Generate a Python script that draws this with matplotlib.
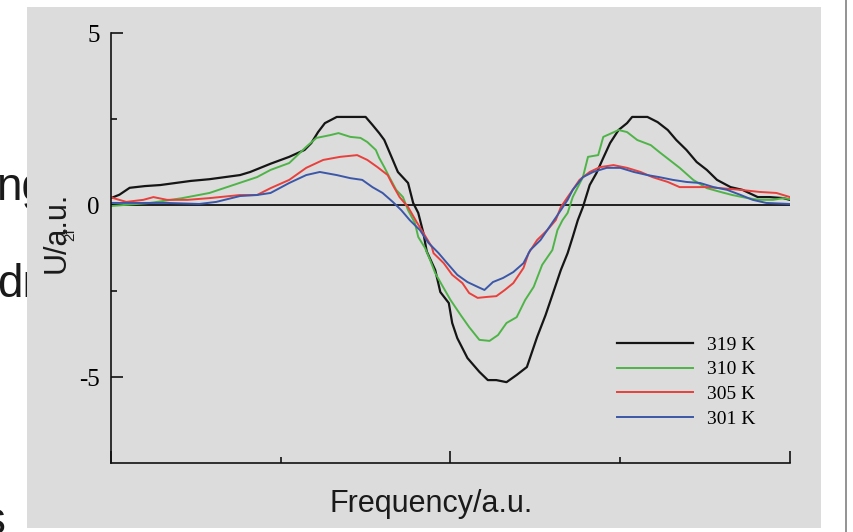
import matplotlib
matplotlib.use('Agg')
import matplotlib.pyplot as plt
from matplotlib.patches import Rectangle
from matplotlib.lines import Line2D

# data (frequency in arbitrary units 0..4)
x_319 = [0.00, 0.05, 0.11, 0.20, 0.29, 0.38, 0.47, 0.58, 0.76, 0.82, 0.94, 1.05,
         1.14, 1.18, 1.22, 1.26, 1.33, 1.41, 1.50, 1.54, 1.58, 1.61, 1.66, 1.69,
         1.75, 1.78, 1.81, 1.84, 1.86, 1.91, 1.94, 1.99, 2.01, 2.04, 2.10, 2.17,
         2.22, 2.27, 2.33, 2.39, 2.45, 2.51, 2.56, 2.60, 2.65, 2.69, 2.72, 2.75,
         2.78, 2.82, 2.86, 2.90, 2.94, 2.99, 3.04, 3.07, 3.16, 3.22, 3.28, 3.33,
         3.39, 3.45, 3.51, 3.57, 3.65, 3.72, 3.81, 3.88, 3.96, 4.00]
y_319 = [0.20, 0.30, 0.50, 0.55, 0.58, 0.64, 0.70, 0.75, 0.87, 0.96, 1.20, 1.40,
         1.60, 1.80, 2.12, 2.38, 2.56, 2.56, 2.56, 2.33, 2.09, 1.89, 1.31, 0.96,
         0.64, 0.06, -0.23, -0.81, -1.35, -1.89, -2.53, -2.85, -3.43, -3.87, -4.45, -4.85,
         -5.09, -5.09, -5.15, -4.94, -4.71, -3.84, -3.20, -2.62, -1.89, -1.40, -0.93, -0.44,
         -0.06, 0.58, 0.93, 1.37, 1.80, 2.18, 2.38, 2.56, 2.56, 2.41, 2.18, 1.89,
         1.60, 1.25, 1.02, 0.73, 0.52, 0.44, 0.23, 0.23, 0.20, 0.15]

x_310 = [0.00, 0.23, 0.42, 0.58, 0.72, 0.86, 0.94, 1.05, 1.15, 1.21, 1.29, 1.34,
         1.41, 1.47, 1.51, 1.56, 1.58, 1.61, 1.64, 1.68, 1.72, 1.75, 1.79, 1.81,
         1.85, 1.88, 1.91, 1.95, 2.00, 2.06, 2.11, 2.17, 2.23, 2.28, 2.33, 2.39,
         2.44, 2.49, 2.54, 2.60, 2.63, 2.66, 2.69, 2.72, 2.78, 2.81, 2.87, 2.90,
         2.95, 2.99, 3.04, 3.10, 3.18, 3.23, 3.29, 3.35, 3.43, 3.51, 3.59, 3.66,
         3.75, 3.82, 3.90, 3.96, 4.00]
y_310 = [-0.03, 0.06, 0.20, 0.35, 0.58, 0.81, 1.02, 1.22, 1.69, 1.95, 2.03, 2.09,
         1.98, 1.95, 1.83, 1.60, 1.37, 1.10, 0.81, 0.44, 0.23, -0.15, -0.52, -0.93,
         -1.25, -1.60, -1.98, -2.33, -2.76, -3.20, -3.55, -3.92, -3.95, -3.78, -3.43, -3.26,
         -2.76, -2.38, -1.74, -1.31, -0.73, -0.44, -0.23, 0.23, 0.81, 1.40, 1.45, 1.98,
         2.09, 2.18, 2.12, 1.89, 1.74, 1.54, 1.31, 1.08, 0.73, 0.49, 0.38, 0.29,
         0.20, 0.15, 0.15, 0.20, 0.17]

x_305 = [0.00, 0.09, 0.19, 0.25, 0.33, 0.45, 0.58, 0.76, 0.86, 0.94, 1.05, 1.15,
         1.25, 1.35, 1.45, 1.51, 1.57, 1.63, 1.66, 1.70, 1.75, 1.80, 1.84, 1.89,
         1.90, 1.96, 2.01, 2.07, 2.11, 2.16, 2.22, 2.27, 2.32, 2.37, 2.43, 2.46,
         2.51, 2.57, 2.62, 2.65, 2.69, 2.72, 2.76, 2.82, 2.88, 2.96, 3.04, 3.12,
         3.19, 3.28, 3.35, 3.43, 3.51, 3.59, 3.71, 3.82, 3.92, 4.00]
y_305 = [0.22, 0.09, 0.15, 0.23, 0.15, 0.15, 0.20, 0.29, 0.29, 0.49, 0.73, 1.08,
         1.31, 1.40, 1.45, 1.31, 1.10, 0.87, 0.58, 0.23, -0.06, -0.49, -0.81, -1.22,
         -1.40, -1.69, -2.03, -2.27, -2.56, -2.70, -2.67, -2.65, -2.47, -2.27, -1.83, -1.40,
         -1.02, -0.73, -0.44, -0.06, 0.23, 0.44, 0.73, 0.96, 1.10, 1.16, 1.08, 0.96,
         0.81, 0.67, 0.52, 0.52, 0.52, 0.49, 0.44, 0.38, 0.35, 0.23]

x_301 = [0.00, 0.13, 0.33, 0.52, 0.62, 0.76, 0.86, 0.94, 1.05, 1.15, 1.23, 1.33,
         1.41, 1.48, 1.54, 1.60, 1.66, 1.71, 1.76, 1.82, 1.87, 1.93, 1.98, 2.04,
         2.10, 2.16, 2.20, 2.25, 2.31, 2.37, 2.43, 2.47, 2.53, 2.57, 2.65, 2.69,
         2.72, 2.78, 2.84, 2.92, 3.00, 3.08, 3.16, 3.23, 3.31, 3.39, 3.47, 3.55,
         3.63, 3.71, 3.78, 3.86, 4.00]
y_301 = [0.06, 0.06, 0.06, 0.03, 0.09, 0.26, 0.29, 0.35, 0.64, 0.87, 0.96, 0.87,
         0.78, 0.73, 0.52, 0.35, 0.09, -0.15, -0.44, -0.73, -1.10, -1.40, -1.69, -2.03,
         -2.24, -2.38, -2.47, -2.24, -2.12, -1.95, -1.69, -1.31, -1.02, -0.73, -0.15, 0.15,
         0.44, 0.81, 0.96, 1.08, 1.08, 0.96, 0.87, 0.81, 0.73, 0.67, 0.64, 0.52,
         0.44, 0.29, 0.15, 0.06, 0.03]

series = [
    ('319 K', x_319, y_319, '#151515', 1.6),
    ('310 K', x_310, y_310, '#4fb448', 1.4),
    ('305 K', x_305, y_305, '#e8403c', 1.4),
    ('301 K', x_301, y_301, '#3b57a8', 1.4),
]

W, H = 854, 532
fig = plt.figure(figsize=(W / 100, H / 100), dpi=100)
fig.patch.set_facecolor('white')

# slide text peeking out from behind the panel
big = dict(fontsize=33, family='Liberation Sans', color='#1a1a1a', zorder=-2)
fig.text(-4 / W, 1 - 200 / H, 'ng', va='baseline', **big)
fig.text(-3 / W, 1 - 297 / H, 'dr', va='baseline', **big)
fig.text(-17 / W, 1 - 534 / H, 's', va='baseline', **big)

# grey panel
fig.add_artist(Rectangle((27 / W, 1 - 528 / H), (821 - 27) / W, (528 - 7) / H,
                         transform=fig.transFigure, facecolor='#dcdcdc',
                         edgecolor='none', zorder=-1))
fig.add_artist(Line2D([846 / W, 846 / W], [0, 1], transform=fig.transFigure,
                      color='#808080', lw=1.2))

ax = fig.add_axes([111 / W, 1 - 463 / H, (790 - 111) / W, (463 - 33) / H])
ax.set_facecolor('none')

for label, xs, ys, c, lw in series:
    ax.plot(xs, ys, color=c, lw=lw, label=label)

ax.axhline(0, color='#111111', lw=1.3, zorder=1)

ax.set_xlim(0, 4)
ax.set_ylim(-7.5, 5)
for s in ('top', 'right'):
    ax.spines[s].set_visible(False)
for s in ('left', 'bottom'):
    ax.spines[s].set_linewidth(1.2)
    ax.spines[s].set_color('#111111')

ax.set_yticks([-5, 0, 5])
ax.set_yticklabels(['-5', '0', '5'], family='Liberation Serif', fontsize=18)
ax.set_yticks([-2.5, 2.5], minor=True)
ax.set_xticks([0, 2, 4])
ax.set_xticks([1, 3], minor=True)
ax.set_xticklabels([])
ax.tick_params(axis='y', which='major', direction='in', length=8.5, width=1.1, pad=8)
ax.tick_params(axis='y', which='minor', direction='in', length=4, width=1.1)
ax.tick_params(axis='x', which='major', direction='in', length=8.5, width=1.1)
ax.tick_params(axis='x', which='minor', direction='in', length=4.5, width=1.1)

ax.legend(loc='center left', bbox_to_anchor=(607 / W, 1 - 382 / H),
          bbox_transform=fig.transFigure, frameon=False, borderpad=0,
          handlelength=3.9, handletextpad=0.75, labelspacing=0.36,
          prop={'family': 'Liberation Serif', 'size': 14})

fig.text(431.5 / W, 1 - 512 / H, 'Frequency/a.u.', ha='center', va='baseline',
         family='Liberation Sans', fontsize=22, color='#1a1a1a')
fig.text(57 / W, 1 - 232 / H, 'U/a.u.', ha='center', va='center', rotation=90,
         family='Liberation Sans', fontsize=22, color='#1a1a1a')
fig.text(70 / W, 1 - 235 / H, '2f', ha='center', va='center', rotation=90,
         family='Liberation Sans', fontsize=11, color='#1a1a1a')

fig.savefig('out.png', dpi=100)
